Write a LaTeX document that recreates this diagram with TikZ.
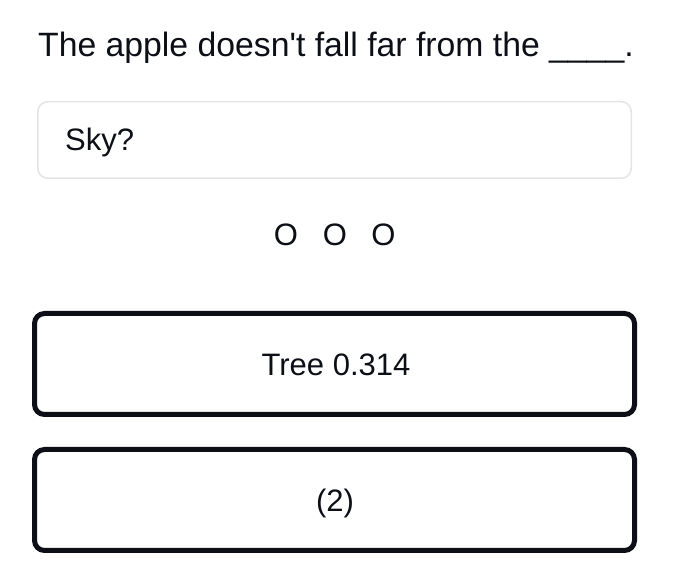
\documentclass[tikz,border=0pt]{standalone}
\usepackage{fontspec}
\setmainfont{Liberation Sans}
\definecolor{ink}{HTML}{0D0F17}
\definecolor{lightborder}{HTML}{E4E4E7}
\begin{document}
\begin{tikzpicture}[x=1pt,y=-1pt,
  txt/.style={inner sep=0pt,text=ink,font=\fontsize{31}{36}\selectfont},
  bigtxt/.style={inner sep=0pt,text=ink,font=\fontsize{33.75}{40}\selectfont},
  inputbox/.style={draw=lightborder,line width=1.5pt,rounded corners=10pt,fill=white},
  answerbtn/.style={draw=ink,line width=5pt,rounded corners=10pt,fill=white}]
\useasboundingbox[fill=white] (0,0) rectangle (681,569);
% question
\node[bigtxt,anchor=base west] (q) at (38,57) {The apple doesn\textquotesingle t fall far from the \_\_\_\_.};
% input box
\draw[inputbox] (37.75,101.75) rectangle (631.25,178.25);
\node[txt,anchor=base west] (sky) at (65,151) {Sky?};
% loading dots
\node[txt,anchor=base] (o1) at (286,246) {O};
\node[txt,anchor=base] (o2) at (335,246) {O};
\node[txt,anchor=base] (o3) at (383.5,246) {O};
% answer buttons
\draw[answerbtn] (34.5,313.5) rectangle (634.5,414.5);
\node[txt,anchor=base] (b1) at (336,376) {Tree 0.314};
\draw[answerbtn] (34.5,449.5) rectangle (634.5,550.5);
\node[txt,anchor=base] (b2) at (335,512) {(2)};
\end{tikzpicture}
\end{document}
